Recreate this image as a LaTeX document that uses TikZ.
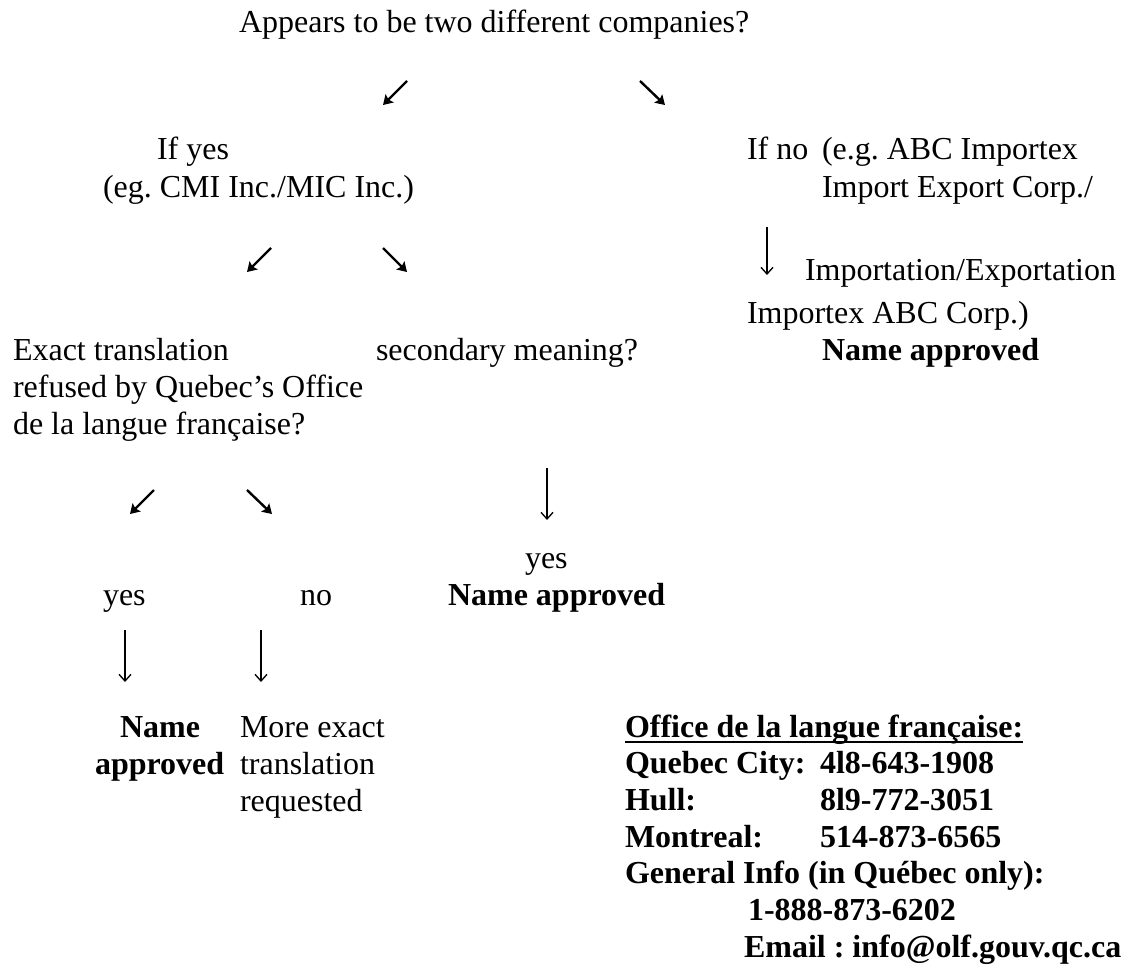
\documentclass[tikz,border=0pt]{standalone}
\usepackage{fontspec}
\setmainfont{Liberation Serif}
\usetikzlibrary{arrows.meta}
\frenchspacing
\begin{document}
\begin{tikzpicture}[x=0.75pt,y=-0.75pt,
  txt/.style={anchor=base west,inner sep=0pt,outer sep=0pt,font=\fontsize{24}{27.75}\selectfont},
  bld/.style={txt,font=\fontsize{24}{27.75}\selectfont\bfseries},
  diag/.style={line width=1.8pt,-{Stealth[length=7pt,width=8.5pt,inset=1.2pt]}},
  down/.style={line width=1pt,-{Straight Barb[length=5pt,width=9pt]}}]
\path[fill=white,use as bounding box] (0,0) rectangle (1124,967);

% top
\node[txt] (q1) at (239,32) {Appears to be two different companies?};
\coordinate (a1s) at (407,81); \coordinate (a1e) at (383,105);
\coordinate (a2s) at (640,81); \coordinate (a2e) at (665,105);
\draw[diag] (a1s) -- (a1e);
\draw[diag] (a2s) -- (a2e);

% left branch
\node[txt] (ifyes) at (157,159) {If yes};
\node[txt] (egcmi) at (103,197) {(eg. CMI Inc./MIC Inc.)};
\coordinate (b1s) at (271,248); \coordinate (b1e) at (247,272);
\coordinate (b2s) at (383,248); \coordinate (b2e) at (407,272);
\draw[diag] (b1s) -- (b1e);
\draw[diag] (b2s) -- (b2e);

\node[txt] (ex1) at (13,360) {Exact translation};
\node[txt] (ex2) at (13,397) {refused by Quebec’s Office};
\node[txt] (ex3) at (13,434) {de la langue française?};
\node[txt] (sec) at (376,360) {secondary meaning?};

\coordinate (c1s) at (154,490); \coordinate (c1e) at (130,514);
\coordinate (c2s) at (247,490); \coordinate (c2e) at (272,514);
\draw[diag] (c1s) -- (c1e);
\draw[diag] (c2s) -- (c2e);

\coordinate (d0s) at (547,468); \coordinate (d0e) at (547,520);
\draw[down] (d0s) -- (d0e);
\node[txt] (yes2) at (525,568) {yes};
\node[bld] (na2) at (448,605) {Name approved};

\node[txt] (yes1) at (103,605) {yes};
\node[txt] (no1) at (300,605) {no};
\coordinate (d1s) at (125,630); \coordinate (d1e) at (125,682);
\coordinate (d2s) at (261,630); \coordinate (d2e) at (261,682);
\draw[down] (d1s) -- (d1e);
\draw[down] (d2s) -- (d2e);

\node[bld] (na3a) at (120,737) {Name};
\node[bld] (na3b) at (95,774) {approved};
\node[txt] (me1) at (240,737) {More exact};
\node[txt] (me2) at (240,774) {translation};
\node[txt] (me3) at (240,811) {requested};

% right branch
\node[txt] (ifno) at (747,159) {If no};
\node[txt] (eg2a) at (822,159) {(e.g. ABC Importex};
\node[txt] (eg2b) at (822,197) {Import Export Corp./};
\coordinate (d3s) at (767,227); \coordinate (d3e) at (767,275);
\draw[down] (d3s) -- (d3e);
\node[txt] (eg2c) at (805,280) {Importation/Exportation};
\node[txt] (eg2d) at (747,323) {Importex ABC Corp.)};
\node[bld] (na1) at (822,360) {Name approved};

% contact block
\node[bld] (o1) at (625,737) {Office de la langue française:};
\draw[line width=1.5pt] ([yshift=-3.5pt]o1.base west) -- ([yshift=-3.5pt]o1.base east);
\node[bld] (o2) at (625,773) {Quebec City:};
\node[bld] (o2n) at (820,773) {4l8-643-1908};
\node[bld] (o3) at (625,810) {Hull:};
\node[bld] (o3n) at (820,810) {8l9-772-3051};
\node[bld] (o4) at (625,847) {Montreal:};
\node[bld] (o4n) at (820,847) {514-873-6565};
\node[bld] (o5) at (625,883) {General Info (in Québec only):};
\node[bld] (o6) at (748,920) {1-888-873-6202};
\node[bld] (o7) at (744,957) {Email : info@olf.gouv.qc.ca};
\end{tikzpicture}
\end{document}
